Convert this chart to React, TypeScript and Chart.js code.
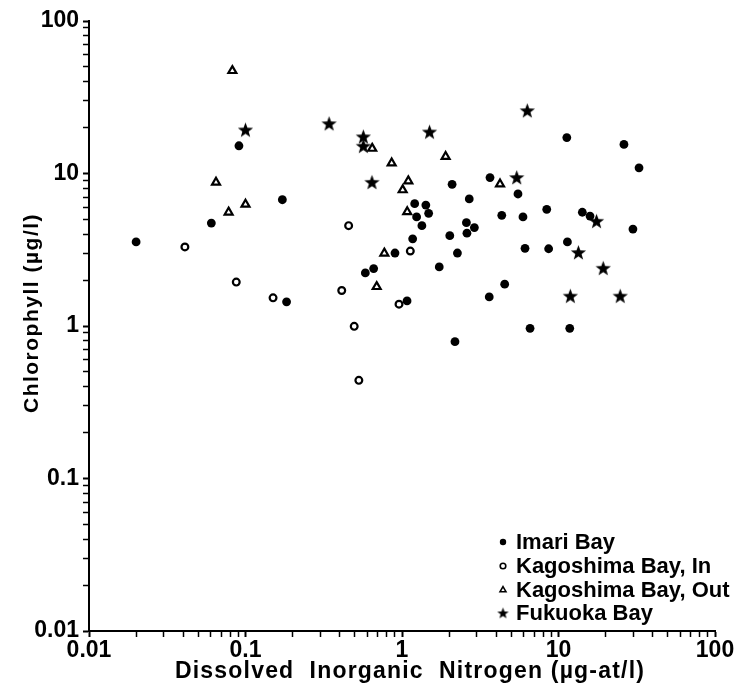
import { useEffect, useRef } from 'react';
import { Chart, registerables } from 'chart.js';

Chart.register(...registerables);

// ---- data ----
const imariN = [0.020, 0.0908, 0.172, 0.0605, 0.183, 1.205, 1.24, 1.17, 0.902, 0.659, 0.583, 1.077, 1.42, 1.48, 1.34, 2.09, 2.69, 2.58, 2.90, 2.60, 2.02, 2.26, 1.73, 2.18, 3.65, 5.51, 4.34, 5.93, 8.41, 14.2, 15.9, 6.11, 8.65, 11.4, 29.9, 11.3, 26.2, 32.7, 4.53, 3.61, 6.58, 11.8];
const imariChl = [3.56, 15.2, 6.73, 4.73, 1.44, 6.34, 5.19, 3.73, 3.01, 2.38, 2.23, 1.46, 6.21, 5.48, 4.55, 8.49, 6.81, 4.76, 4.42, 4.06, 3.91, 3.01, 2.44, 0.789, 9.40, 7.34, 5.32, 5.19, 5.82, 5.57, 5.26, 3.23, 3.21, 3.56, 4.32, 17.2, 15.5, 10.9, 1.88, 1.55, 0.966, 0.966];

const kagInN = [0.041, 0.0873, 0.150, 0.456, 0.412, 0.495, 1.13, 0.957, 0.53];
const kagInChl = [3.30, 1.94, 1.53, 4.55, 1.71, 0.995, 3.10, 1.39, 0.44];

const kagOutN = [0.0824, 0.0648, 0.100, 0.078, 0.645, 0.859, 1.097, 1.01, 1.08, 0.771, 0.689, 1.90, 4.23];
const kagOutChl = [47.2, 8.75, 6.28, 5.57, 14.6, 11.7, 8.93, 7.8, 5.6, 3.0, 1.81, 12.9, 8.53];

const fukuokaN = [0.100, 0.342, 0.566, 0.566, 0.643, 1.50, 6.32, 5.41, 17.5, 13.4, 19.3, 11.9, 24.8];
const fukuokaChl = [19.3, 21.2, 17.4, 15.1, 8.75, 18.7, 25.8, 9.4, 4.86, 3.03, 2.39, 1.57, 1.57];

const seriesNames = ['Imari Bay', 'Kagoshima Bay, In', 'Kagoshima Bay, Out', 'Fukuoka Bay'];
const decades = [0.01, 0.1, 1, 10, 100];
const decadeLabels = ['0.01', '0.1', '1', '10', '100'];
const xTitle = 'Dissolved  Inorganic  Nitrogen (\u00b5g-at/l)';
const yTitle = 'Chlorophyll (\u00b5g/l)';

const FONT = '"Liberation Sans", Arial, sans-serif';

function makeStar(size: number, outer: number, inner: number): HTMLCanvasElement {
  const c = document.createElement('canvas');
  c.width = size;
  c.height = size;
  const ctx = c.getContext('2d')!;
  const cx = size / 2;
  const cy = size / 2 + 0.5;
  ctx.beginPath();
  for (let i = 0; i < 10; i++) {
    const r = i % 2 === 0 ? outer : inner;
    const a = -Math.PI / 2 + (i * Math.PI) / 5;
    const px = cx + r * Math.cos(a);
    const py = cy + r * Math.sin(a);
    if (i === 0) ctx.moveTo(px, py);
    else ctx.lineTo(px, py);
  }
  ctx.closePath();
  ctx.fillStyle = '#000';
  ctx.fill();
  return c;
}

function toPoints(xs: number[], ys: number[]) {
  return xs.map((x, i) => ({ x, y: ys[i] }));
}

function allTicks(): { value: number }[] {
  const out: { value: number }[] = [];
  for (let d = 0; d < decades.length; d++) {
    const base = decades[d];
    if (d === decades.length - 1) {
      out.push({ value: base });
      break;
    }
    for (let m = 1; m <= 9; m++) out.push({ value: +(base * m).toPrecision(6) });
  }
  return out;
}

function tickLabel(v: number): string {
  const i = decades.findIndex((d) => Math.abs(d - v) / d < 1e-6);
  return i >= 0 ? decadeLabels[i] : '';
}

function isDecade(v: number): boolean {
  return decades.some((d) => Math.abs(d - v) / d < 1e-6);
}

export default function App() {
  const ref = useRef<HTMLCanvasElement | null>(null);

  useEffect(() => {
    if (!ref.current) return;
    const star = makeStar(17, 8, 3.3);
    const starSmall = makeStar(13, 6, 2.5);

    const textPlugin = {
      id: 'titlesAndLegend',
      afterDraw(chart: any) {
        const { ctx } = chart;
        ctx.save();
        ctx.fillStyle = '#000';
        ctx.strokeStyle = '#000';

        // x axis title
        ctx.font = `bold 23px ${FONT}`;
        (ctx as any).letterSpacing = '1.2px';
        ctx.textAlign = 'center';
        ctx.textBaseline = 'middle';
        ctx.fillText(xTitle, 410, 672);

        // y axis title
        ctx.save();
        ctx.font = `bold 21px ${FONT}`;
        (ctx as any).letterSpacing = '1.5px';
        ctx.translate(32, 313);
        ctx.rotate(-Math.PI / 2);
        ctx.fillText(yTitle, 0, 0);
        ctx.restore();

        // legend
        (ctx as any).letterSpacing = '0px';
        const x0 = 503;
        const tx = 516;
        const rows = [542, 566, 590, 613];
        ctx.font = `bold 22px ${FONT}`;
        ctx.textBaseline = 'middle';
        ctx.textAlign = 'left';
        rows.forEach((y, i) => {
          ctx.beginPath();
          if (i === 0) {
            ctx.arc(x0, y, 3.2, 0, Math.PI * 2);
            ctx.fill();
          } else if (i === 1) {
            ctx.lineWidth = 1.6;
            ctx.arc(x0, y, 2.8, 0, Math.PI * 2);
            ctx.stroke();
          } else if (i === 2) {
            ctx.lineWidth = 1.6;
            const r = 3.4;
            ctx.moveTo(x0, y - r);
            ctx.lineTo(x0 + r * 0.866, y + r * 0.5);
            ctx.lineTo(x0 - r * 0.866, y + r * 0.5);
            ctx.closePath();
            ctx.stroke();
          } else {
            ctx.drawImage(starSmall, x0 - 6.5, y - 6.5);
          }
          ctx.fillText(seriesNames[i], tx, y + 1);
        });
        ctx.restore();
      },
    };

    const tickFont = { family: FONT, size: 23, weight: 'bold' };

    const chart = new Chart(ref.current, {
      type: 'scatter',
      data: {
        datasets: [
          {
            label: seriesNames[0],
            data: toPoints(imariN, imariChl),
            pointStyle: 'circle',
            radius: 4.4,
            backgroundColor: '#000',
            borderColor: '#000',
            borderWidth: 0,
          },
          {
            label: seriesNames[1],
            data: toPoints(kagInN, kagInChl),
            pointStyle: 'circle',
            radius: 3.4,
            backgroundColor: '#fff',
            borderColor: '#000',
            borderWidth: 2.2,
          },
          {
            label: seriesNames[2],
            data: toPoints(kagOutN, kagOutChl),
            pointStyle: 'triangle',
            radius: 4.6,
            backgroundColor: '#fff',
            borderColor: '#000',
            borderWidth: 2.2,
          },
          {
            label: seriesNames[3],
            data: toPoints(fukuokaN, fukuokaChl),
            pointStyle: star as any,
            radius: 8,
            backgroundColor: '#000',
            borderColor: '#000',
          },
        ],
      },
      options: {
        animation: false,
        responsive: false,
        devicePixelRatio: 1,
        layout: { padding: { top: 21, right: 29, left: 0, bottom: 0 } },
        plugins: {
          legend: { display: false },
          tooltip: { enabled: false },
        },
        scales: {
          x: {
            type: 'logarithmic',
            min: 0.01,
            max: 100,
            position: 'bottom',
            border: { display: true, color: '#000', width: 2 },
            grid: {
              drawOnChartArea: false,
              drawTicks: true,
              tickLength: 6,
              tickColor: '#000',
              tickWidth: (c: any) => (isDecade(c.tick?.value) ? 2 : 1.5),
            },
            ticks: {
              color: '#000',
              font: tickFont,
              padding: 0,
              maxRotation: 0,
              autoSkip: false,
              callback: (v: any) => tickLabel(Number(v)),
            },
            title: { display: false, text: xTitle },
            afterBuildTicks: (scale: any) => {
              scale.ticks = allTicks();
            },
            afterFit: (scale: any) => {
              scale.height = 64;
            },
          },
          y: {
            type: 'logarithmic',
            min: 0.01,
            max: 100,
            position: 'left',
            border: { display: true, color: '#000', width: 2 },
            grid: {
              drawOnChartArea: false,
              drawTicks: true,
              tickLength: 6,
              tickColor: '#000',
              tickWidth: (c: any) => (isDecade(c.tick?.value) ? 2 : 1.5),
            },
            ticks: {
              color: '#000',
              font: tickFont,
              padding: 4,
              autoSkip: false,
              callback: (v: any) => tickLabel(Number(v)),
            },
            title: { display: false, text: yTitle },
            afterBuildTicks: (scale: any) => {
              scale.ticks = allTicks();
            },
            afterFit: (scale: any) => {
              scale.width = 89;
            },
          },
        },
      },
      plugins: [textPlugin],
    } as any);

    return () => chart.destroy();
  }, []);

  return (
    <div style={{ position: 'absolute', left: 0, top: 0, width: 744, height: 695, background: '#fff' }}>
      <canvas ref={ref} width={744} height={695} style={{ display: 'block' }} />
    </div>
  );
}
